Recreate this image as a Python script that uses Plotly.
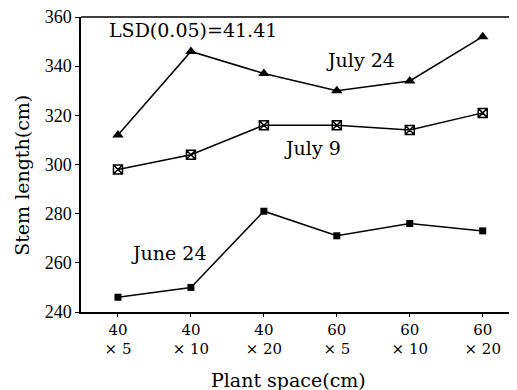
import plotly.graph_objects as go

categories = ["40<br>× 5", "40<br>× 10", "40<br>× 20", "60<br>× 5", "60<br>× 10", "60<br>× 20"]
july24 = [312, 346, 337, 330, 334, 352]
july9 = [298, 304, 316, 316, 314, 321]
june24 = [246, 250, 281, 271, 276, 273]
y_ticks = [240, 260, 280, 300, 320, 340, 360]

FONT = "DejaVu Serif, Liberation Serif, serif"
TFONT = "Liberation Serif, Times New Roman, serif"
xs = list(range(len(categories)))

fig = go.Figure()
fig.add_trace(go.Scatter(x=xs, y=july24, mode="lines+markers",
                         line=dict(color="black", width=1.5),
                         marker=dict(symbol="triangle-up", size=10, color="black")))
fig.add_trace(go.Scatter(x=xs, y=july9, mode="lines+markers",
                         line=dict(color="black", width=1.5),
                         marker=dict(symbol="square-x-open", size=9, color="black",
                                     line=dict(width=1.5, color="black"))))
fig.add_trace(go.Scatter(x=xs, y=june24, mode="lines+markers",
                         line=dict(color="black", width=1.5),
                         marker=dict(symbol="square", size=7, color="black")))

ann_font = dict(family=FONT, size=19, color="black")
fig.add_annotation(x=1.03, y=354.7, text="LSD(0.05)=41.41", showarrow=False, font=ann_font)
fig.add_annotation(x=3.33, y=342.5, text="July 24", showarrow=False, font=ann_font)
fig.add_annotation(x=2.66, y=306.7, text="July 9", showarrow=False, font=ann_font)
fig.add_annotation(x=0.70, y=264, text="June 24", showarrow=False, font=ann_font)

# axis titles
fig.add_annotation(xref="paper", yref="paper", x=0.475, y=-0.23, text="Plant space(cm)",
                   xanchor="center", yanchor="middle",
                   showarrow=False, font=dict(family=FONT, size=19, color="black"))
fig.add_annotation(xref="paper", yref="paper", x=-0.136, y=0.464, text="Stem length(cm)",
                   xanchor="center", yanchor="middle",
                   textangle=-90, showarrow=False,
                   font=dict(family=FONT, size=19, color="black"))

fig.add_shape(type="line", xref="paper", yref="paper", x0=0, x1=1, y0=1, y1=1,
              line=dict(color="black", width=1.5))

# page body has an 8px margin, so the figure is 8px smaller and shifted
fig.update_layout(
    width=509, height=382,
    margin=dict(l=73, r=0, t=9, b=78),
    paper_bgcolor="white", plot_bgcolor="white",
    showlegend=False,
    font=dict(family=FONT, size=16, color="black"),
    xaxis=dict(range=[-0.507, 5.47], tickvals=xs, ticktext=categories,
               automargin=False, ticklabeloverflow="allow",
               showline=True, linecolor="black", linewidth=1.5,
               ticks="outside", ticklen=3, tickcolor="black",
               tickfont=dict(family=FONT, size=15),
               showgrid=False, zeroline=False),
    yaxis=dict(range=[240, 360], tickvals=y_ticks,
               automargin=False, ticklabeloverflow="allow",
               showline=True, linecolor="black", linewidth=1.5,
               ticks="outside", ticklen=4, tickcolor="black",
               tickfont=dict(family=TFONT, size=18),
               showgrid=False, zeroline=False),
)

fig.write_html("out.html")
